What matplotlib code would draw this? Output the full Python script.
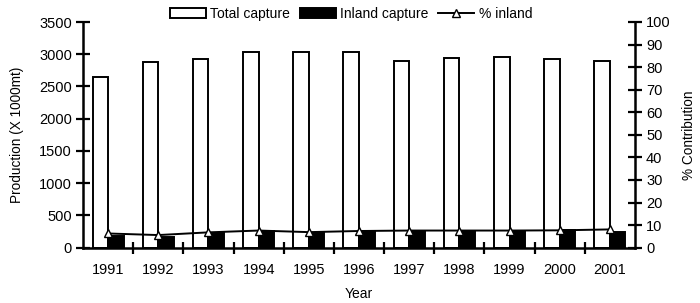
import matplotlib
matplotlib.use("Agg")
import matplotlib.pyplot as plt
import numpy as np

years = ["1991", "1992", "1993", "1994", "1995", "1996", "1997", "1998", "1999", "2000", "2001"]
total_capture = [2640, 2885, 2930, 3030, 3030, 3030, 2900, 2935, 2950, 2930, 2895]
inland_capture = [175, 165, 225, 260, 230, 265, 265, 265, 265, 270, 240]
pct_inland = [6.3, 5.6, 6.8, 7.6, 6.9, 7.4, 7.6, 7.6, 7.6, 7.7, 8.1]

plt.rcParams['font.family'] = ['Liberation Sans', 'DejaVu Sans']
plt.rcParams['font.size'] = 10

fig = plt.figure(figsize=(7.0, 3.03), dpi=100)
ax = fig.add_axes([83/700, 1-247.7/303, (635-83)/700, (247.7-22)/303])
ax2 = ax.twinx()

x = np.arange(len(years))
w = 0.31
b1 = ax.bar(x - w/2, total_capture, width=w, color='white', edgecolor='black', linewidth=1.4, label='Total capture', zorder=2)
b2 = ax.bar(x + w/2, inland_capture, width=w, color='black', edgecolor='black', linewidth=1.4, label='Inland capture', zorder=2)
ln, = ax2.plot(x, pct_inland, color='black', linewidth=1.4, marker='^', markersize=6,
               markerfacecolor='white', markeredgecolor='black', markeredgewidth=1.0, label='% inland', zorder=3)

ax.set_xlim(-0.5, len(years) - 0.5)
ax.set_ylim(0, 3500)
ax.set_yticks(np.arange(0, 3501, 500))
ax2.set_ylim(0, 100)
ax2.set_yticks(np.arange(0, 101, 10))

ax.set_xticks(x)
ax.set_xticklabels(years)
ax.set_xticks(np.arange(0.5, len(years) - 0.5, 1), minor=True)
ax.tick_params(axis='x', which='major', length=0, pad=11, labelsize=10.5)
ax.tick_params(axis='x', which='minor', length=9, width=1.6, direction='inout')
ax.tick_params(axis='y', length=10, width=1.6, direction='inout', pad=3, labelsize=10.5)
ax2.tick_params(axis='y', length=10, width=1.6, direction='inout', pad=3, labelsize=10.5)

for a in (ax, ax2):
    a.spines['top'].set_visible(False)
    for s in ('left', 'right', 'bottom'):
        a.spines[s].set_linewidth(1.8)
ax.spines['right'].set_visible(False)
ax2.spines['left'].set_visible(False)
ax2.spines['bottom'].set_visible(False)

ax.set_ylabel('Production (X 1000mt)', labelpad=11, fontsize=9.8)
ax2.set_ylabel('% Contribution', labelpad=8, fontsize=9.8)
ax.set_xlabel('Year', labelpad=7, fontsize=10)

fig.legend(handles=[b1, b2, ln], loc='center', bbox_to_anchor=(351/700, 1-14/303), ncol=3,
           frameon=False, handlelength=2.6, handletextpad=0.3, columnspacing=0.7, fontsize=10)

fig.savefig('out.png', dpi=100)
